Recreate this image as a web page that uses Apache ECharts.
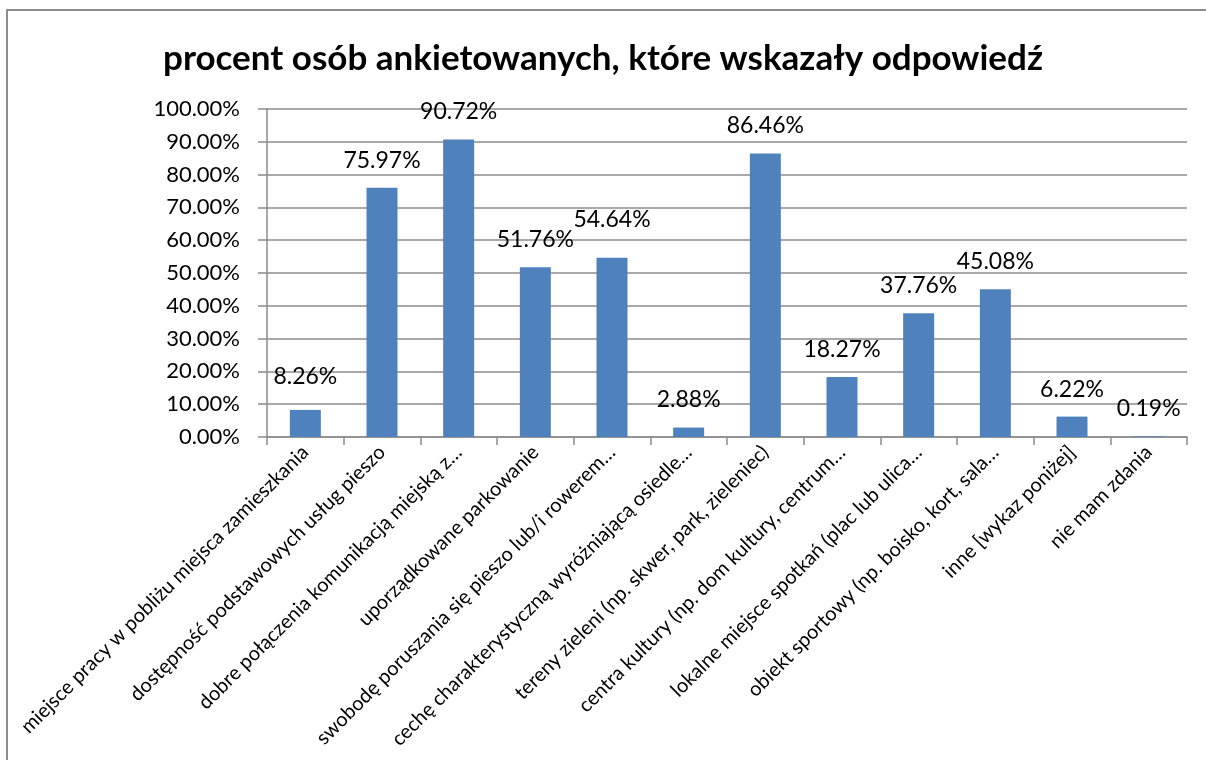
<!DOCTYPE html>
<html>
<head>
<meta charset="utf-8">
<script src="https://cdn.jsdelivr.net/npm/echarts@6/dist/echarts.min.js"></script>
<style>
  html, body { margin: 0; padding: 0; background: #fff; }
  #chart { width: 1206px; height: 760px; }
</style>
</head>
<body>
<div id="chart"></div>
<script>
// odpowiedzi (etykiety kategorii, obcięte jak w oryginale)
const categories = [
  'miejsce pracy w pobliżu miejsca zamieszkania',
  'dostępność podstawowych usług pieszo',
  'dobre połączenia komunikacją miejską z…',
  'uporządkowane parkowanie',
  'swobodę poruszania się pieszo lub/i rowerem…',
  'cechę charakterystyczną wyróżniającą osiedle…',
  'tereny zieleni (np. skwer, park, zieleniec)',
  'centra kultury (np. dom kultury, centrum…',
  'lokalne miejsce spotkań (plac lub ulica…',
  'obiekt sportowy (np. boisko, kort, sala…',
  'inne [wykaz poniżej]',
  'nie mam zdania'
];
// procent wskazań
const values = [8.26, 75.97, 90.72, 51.76, 54.64, 2.88, 86.46, 18.27, 37.76, 45.08, 6.22, 0.19];

const title = 'procent osób ankietowanych, które wskazały odpowiedź';
const font = 'Lato, "Open Sans", sans-serif';

// etykiety danych przesunięte w górę tam, gdzie Excel je rozsunął
const labelLift = { 0: 6, 4: 11 };
const barData = values.map((v, i) => labelLift[i]
  ? { value: v, label: { offset: [0, -labelLift[i]] } }
  : v);

const chart = echarts.init(document.getElementById('chart'));
chart.setOption({
  animation: false,
  backgroundColor: '#fff',
  textStyle: { fontFamily: font },
  title: {
    text: title,
    left: 'center',
    top: 36,
    textStyle: { fontFamily: font, fontSize: 35, fontWeight: 'bold', color: '#000' }
  },
  graphic: [{
    type: 'rect',
    shape: { x: 7, y: 10, width: 1300, height: 900 },
    style: { fill: 'none', stroke: '#8c8c8c', lineWidth: 2 },
    silent: true
  }],
  grid: { left: 267, right: 19, top: 109, bottom: 323, containLabel: false },
  xAxis: {
    type: 'category',
    data: categories,
    axisLine: { show: true, lineStyle: { color: '#8c8c8c', width: 1.5 } },
    axisTick: { show: true, length: 8, alignWithLabel: false, lineStyle: { color: '#8c8c8c', width: 1.5 } },
    axisLabel: {
      interval: 0,
      rotate: 45,
      margin: 12,
      fontSize: 20,
      color: '#000',
      fontFamily: font
    }
  },
  yAxis: {
    type: 'value',
    min: 0,
    max: 100,
    interval: 10,
    axisLine: { show: true, lineStyle: { color: '#8c8c8c', width: 1.5 } },
    axisTick: { show: true, length: 9, lineStyle: { color: '#8c8c8c', width: 1.5 } },
    axisLabel: {
      margin: 27,
      fontSize: 22,
      color: '#000',
      fontFamily: font,
      formatter: v => v.toFixed(2) + '%'
    },
    splitLine: { show: true, lineStyle: { color: '#8c8c8c', width: 1.5 } }
  },
  series: [{
    type: 'bar',
    data: barData,
    barWidth: 31,
    itemStyle: { color: '#4f81bd' },
    label: {
      show: true,
      position: 'top',
      distance: 16,
      fontSize: 23,
      color: '#000',
      fontFamily: font,
      formatter: p => p.value.toFixed(2) + '%'
    }
  }]
});
</script>
</body>
</html>
